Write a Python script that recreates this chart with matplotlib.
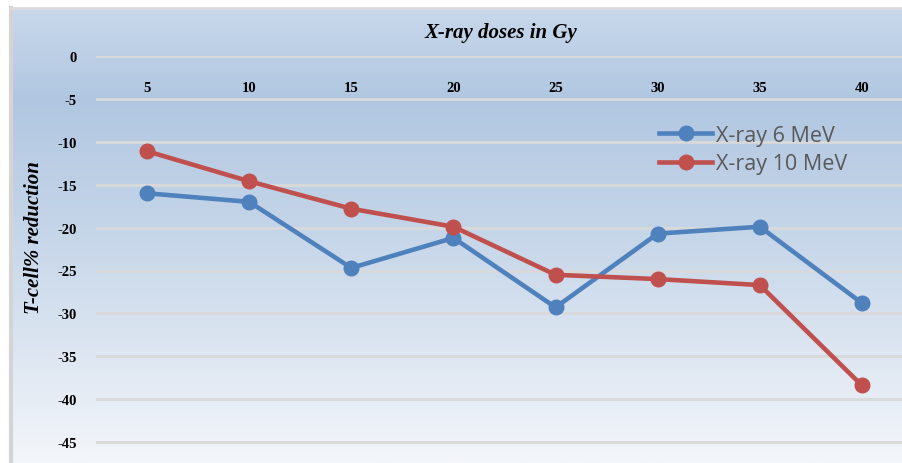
import matplotlib
matplotlib.use("Agg")
import matplotlib.pyplot as plt
import numpy as np
from matplotlib.colors import LinearSegmentedColormap

# data
doses = [5, 10, 15, 20, 25, 30, 35, 40]
xray_6mev = [-16.0, -17.0, -24.7, -21.2, -29.3, -20.7, -19.9, -28.8]
xray_10mev = [-11.1, -14.6, -17.8, -19.9, -25.5, -26.0, -26.7, -38.4]
y_ticks = [0, -5, -10, -15, -20, -25, -30, -35, -40, -45]

W, H = 903, 464
fig = plt.figure(figsize=(W / 100, H / 100), dpi=100)

# background gradient over the whole chart area
bg = fig.add_axes([0, 0, 1, 1])
bg.set_xlim(0, W)
bg.set_ylim(H, 0)
bg.axis('off')
cmap = LinearSegmentedColormap.from_list(
    'bg', [(0.0, '#c8d8eb'), (0.2, '#b1c7e1'), (0.5, '#c6d6e9'), (1.0, '#f3f6fa')])
grad = np.linspace(0, 1, 256).reshape(-1, 1)
bg.imshow(grad, cmap=cmap, aspect='auto', extent=(11, W, H, 9), zorder=0)
bg.plot([11, 11], [9, H], color='#d4d4d4', lw=3, zorder=1)
bg.plot([11, W], [9, 9], color='#dcdcdc', lw=2, zorder=1)

# plot area (extends a little past the right and bottom edges, like the crop)
x0, x1 = 96, 913
y0, y1 = 57, 486
ax = fig.add_axes([x0 / W, 1 - y1 / H, (x1 - x0) / W, (y1 - y0) / H])
ax.patch.set_alpha(0)

pos = np.arange(len(doses))
ax.plot(pos, xray_6mev, color='#4f81bd', lw=3.3, marker='o', ms=10.5,
        label='X-ray 6 MeV', zorder=3)
ax.plot(pos, xray_10mev, color='#c0504d', lw=3.3, marker='o', ms=10.5,
        label='X-ray 10 MeV', zorder=3)

ax.set_xlim(-0.5, len(doses) - 0.5)
ax.set_ylim(-50, 0)
ax.set_yticks(y_ticks)
ax.yaxis.grid(True, color='#d9d9d9', lw=2)
ax.set_axisbelow(True)
for s in ax.spines.values():
    s.set_visible(False)

ax.set_yticklabels([str(v) for v in y_ticks], fontfamily='Liberation Serif',
                   fontweight='bold', fontsize=10.5)
ax.tick_params(axis='y', length=0, pad=14)

ax.xaxis.tick_top()
ax.set_xticks(pos)
ax.set_xticklabels([str(d) for d in doses], fontfamily='Liberation Serif',
                   fontweight='bold', fontsize=10.5)
ax.tick_params(axis='x', length=0, pad=-27)

ax.set_ylabel('T-cell% reduction', fontfamily='Liberation Serif',
              fontweight='bold', fontstyle='italic', fontsize=15)
ax.yaxis.set_label_coords((44 - x0) / (x1 - x0), 1 - (238 - y0) / (y1 - y0))

fig.text(501 / W, 1 - 33 / H, 'X-ray doses in Gy', ha='center', va='center',
         fontfamily='Liberation Serif', fontweight='bold', fontstyle='italic',
         fontsize=15)

leg = ax.legend(loc='upper left',
                bbox_to_anchor=((650 - x0) / (x1 - x0), 1 - (117 - y0) / (y1 - y0)),
                frameon=False, handlelength=2.5, handletextpad=0.15,
                labelspacing=0.35, borderaxespad=0,
                prop={'family': 'Open Sans', 'size': 15.5})
for t in leg.get_texts():
    t.set_color('#595959')

fig.savefig('out.png', dpi=100)
